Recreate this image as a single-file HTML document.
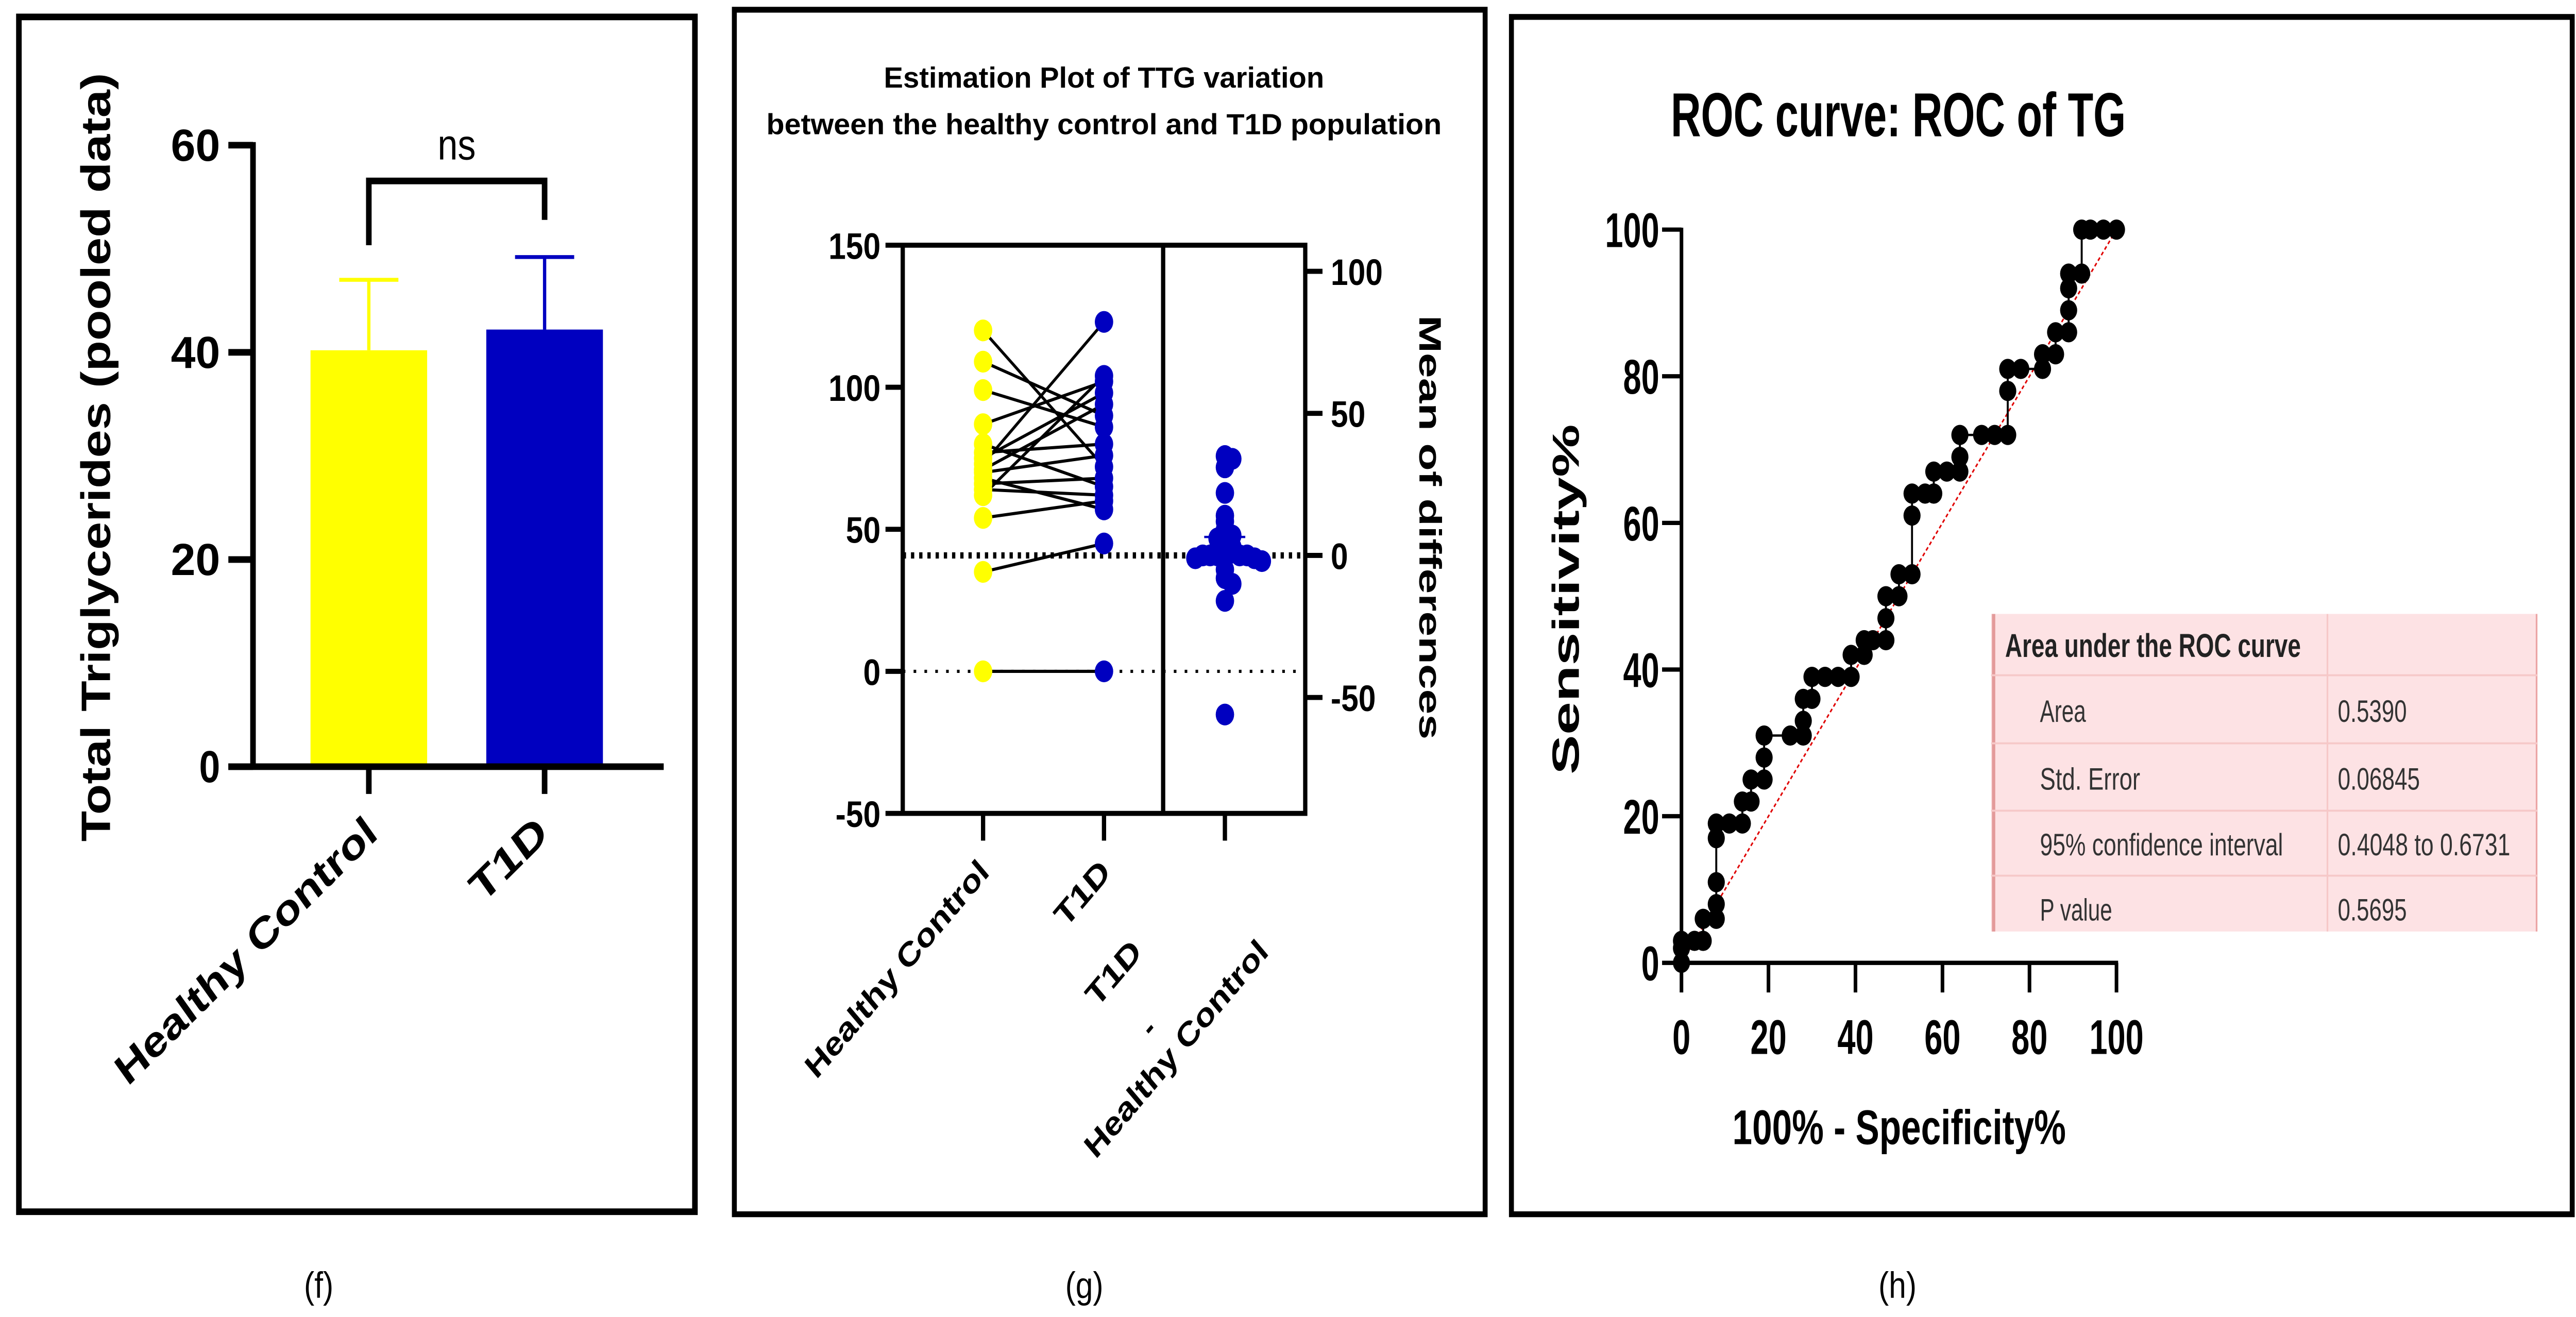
<!DOCTYPE html>
<html><head><meta charset="utf-8"><style>
html,body{margin:0;padding:0;background:#fff;width:100vw;height:100vh;overflow:hidden;}
svg{display:block;width:100vw;height:100vh;}
text{font-family:"Liberation Sans",sans-serif;}
</style></head><body>
<svg id="fig" viewBox="0 0 1568 676.8" preserveAspectRatio="none" xmlns="http://www.w3.org/2000/svg">
<rect x="0" y="0" width="1568" height="677" fill="#fff"/>
<!-- Panel f -->
<g id="pf">
 <rect x="11.5" y="8.7" width="411.5" height="614" fill="none" stroke="#000" stroke-width="3.4"/>
 <text transform="translate(67,235) rotate(-90)" text-anchor="middle" font-size="25" font-weight="bold" textLength="395" lengthAdjust="spacingAndGlyphs">Total Triglycerides (pooled data)</text>
 <g id="fAxes"></g>
 <text x="278" y="82" text-anchor="middle" font-size="22">ns</text>
 <path d="M224.5,126 V93 H331.5 V113" fill="none" stroke="#000" stroke-width="3.4"/>
 <text transform="translate(231,430) rotate(-40)" text-anchor="end" font-size="22" font-weight="bold" textLength="200" lengthAdjust="spacingAndGlyphs">Healthy Control</text>
 <text transform="translate(335,430) rotate(-40)" text-anchor="end" font-size="22" font-weight="bold" textLength="54" lengthAdjust="spacingAndGlyphs">T1D</text>
 <text x="194" y="667" text-anchor="middle" font-size="19" font-family="Liberation Serif, serif">(f)</text>
</g>
<!-- Panel g -->
<g id="pg">
 <rect x="447" y="5" width="457" height="619" fill="none" stroke="#000" stroke-width="3"/>
 <text x="672" y="45" text-anchor="middle" font-size="15" font-weight="bold" textLength="268" lengthAdjust="spacingAndGlyphs">Estimation Plot of TTG variation</text>
 <text x="672" y="69" text-anchor="middle" font-size="15" font-weight="bold" textLength="411" lengthAdjust="spacingAndGlyphs">between the healthy control and T1D population</text>
 <g id="gPlot"></g>
 <text transform="translate(864,271) rotate(90)" text-anchor="middle" font-size="19" font-weight="bold" textLength="218" lengthAdjust="spacingAndGlyphs">Mean of differences</text>
 <text transform="translate(603,449) rotate(-45)" text-anchor="end" font-size="17" font-weight="bold" textLength="150" lengthAdjust="spacingAndGlyphs">Healthy Control</text>
 <text transform="translate(677,449) rotate(-45)" text-anchor="end" font-size="17" font-weight="bold" textLength="40" lengthAdjust="spacingAndGlyphs">T1D</text>
 <text transform="translate(696,490) rotate(-45)" text-anchor="end" font-size="17" font-weight="bold" textLength="40" lengthAdjust="spacingAndGlyphs">T1D</text>
 <text transform="translate(705,530) rotate(-45)" text-anchor="end" font-size="17" font-weight="bold">-</text>
 <text transform="translate(773,490) rotate(-45)" text-anchor="end" font-size="17" font-weight="bold" textLength="150" lengthAdjust="spacingAndGlyphs">Healthy Control</text>
 <text x="660" y="667" text-anchor="middle" font-size="19" font-family="Liberation Serif, serif">(g)</text>
</g>
<!-- Panel h -->
<g id="ph">
 <rect x="920" y="8.7" width="645.7" height="615.3" fill="none" stroke="#000" stroke-width="3"/>
 <text x="1017" y="70" font-size="32" font-weight="bold" textLength="277" lengthAdjust="spacingAndGlyphs">ROC curve: ROC of TG</text>
 <text transform="translate(961,308) rotate(-90)" text-anchor="middle" font-size="23" font-weight="bold" textLength="180" lengthAdjust="spacingAndGlyphs">Sensitivity%</text>
 <text x="1156" y="588" text-anchor="middle" font-size="25" font-weight="bold" textLength="203" lengthAdjust="spacingAndGlyphs">100% - Specificity%</text>
 <g id="hPlot"></g>
 <g>
  <rect x="1212" y="315.5" width="332.6" height="163.2" fill="#fde2e4" stroke="none"/>
  <line x1="1213.5" y1="315.5" x2="1213.5" y2="478.7" stroke="#e39a9a" stroke-width="2"/>
  <line x1="1544" y1="315.5" x2="1544" y2="478.7" stroke="#eba5a5" stroke-width="1"/>
  <line x1="1416.7" y1="315.5" x2="1416.7" y2="478.7" stroke="#f6c8c8" stroke-width="1"/>
  <line x1="1212" y1="347" x2="1544.6" y2="347" stroke="#f6c8c8" stroke-width="1"/>
  <line x1="1212" y1="382" x2="1544.6" y2="382" stroke="#f6c8c8" stroke-width="1"/>
  <line x1="1212" y1="416.6" x2="1544.6" y2="416.6" stroke="#f6c8c8" stroke-width="1"/>
  <line x1="1212" y1="450" x2="1544.6" y2="450" stroke="#f6c8c8" stroke-width="1"/>
  <text x="1220.5" y="337.6" font-size="17" font-weight="bold" fill="#222" textLength="180" lengthAdjust="spacingAndGlyphs">Area under the ROC curve</text>
  <text x="1241.7" y="371" font-size="16" fill="#333" textLength="28" lengthAdjust="spacingAndGlyphs">Area</text>
  <text x="1423" y="371" font-size="16" fill="#333" textLength="42" lengthAdjust="spacingAndGlyphs">0.5390</text>
  <text x="1241.7" y="405.8" font-size="16" fill="#333" textLength="61" lengthAdjust="spacingAndGlyphs">Std. Error</text>
  <text x="1423" y="405.8" font-size="16" fill="#333" textLength="50" lengthAdjust="spacingAndGlyphs">0.06845</text>
  <text x="1241.7" y="439.6" font-size="16" fill="#333" textLength="148" lengthAdjust="spacingAndGlyphs">95% confidence interval</text>
  <text x="1423" y="439.6" font-size="16" fill="#333" textLength="105" lengthAdjust="spacingAndGlyphs">0.4048 to 0.6731</text>
  <text x="1241.7" y="473" font-size="16" fill="#333" textLength="44" lengthAdjust="spacingAndGlyphs">P value</text>
  <text x="1423" y="473" font-size="16" fill="#333" textLength="42" lengthAdjust="spacingAndGlyphs">0.5695</text>
 </g>
 <text x="1155" y="667" text-anchor="middle" font-size="19" font-family="Liberation Serif, serif">(h)</text>
</g>
</svg>
<script>
// ---------- Panel f data ----------
const fCategories = ["Healthy Control", "T1D"];
const fMeans = [40.2, 42.2];
const fErrUpper = [47.0, 49.2];
const fColors = ["#ffff00", "#0000c0"];
const fTicks = [0, 20, 40, 60];
// ---------- Panel g data ----------
const gHealthy = [120, 109, 99, 87, 80, 77, 75, 73, 71, 70, 68, 66, 64, 62, 54, 35, 0];
const gT1D = [72, 90, 86, 102, 65, 80, 98, 123, 94, 76, 57, 68, 62, 104, 60, 45, 0];
const gDiffs = [35, 34, 31, 22, 14, 12, 9, 7, 6, 4, 3, 2, 1, 1, 0, 0, 0, 0, 0, -1, -1, -2, -5, -8, -10, -16, -56];
const gDiffMean = 6.5;
const gLeftTicks = [-50, 0, 50, 100, 150];
const gRightTicks = [-50, 0, 50, 100];
const gRightZero = 40.8;
// ---------- Panel h data ----------
const hFpr = [0,0,0,3,5,5,8,8,8,8,8,11,14,14,16,16,19,19,19,25,28,28,28,30,30,33,36,39,39,42,42,44,47,47,47,50,50,53,53,53,56,58,58,61,64,64,64,69,72,75,75,75,78,83,83,86,86,89,89,89,89,92,92,94,97,100];
const hTpr = [0,2,3,3,3,6,6,8,11,17,19,19,19,22,22,25,25,28,31,31,31,33,36,36,39,39,39,39,42,42,44,44,44,47,50,50,53,53,61,64,64,64,67,67,67,69,72,72,72,72,78,81,81,81,83,83,86,86,89,92,94,94,100,100,100,100];
const hTicks = [0, 20, 40, 60, 80, 100];

const NS = "http://www.w3.org/2000/svg";
function mk(tag, attrs, parent) {
  const e = document.createElementNS(NS, tag);
  for (const k in attrs) e.setAttribute(k, attrs[k]);
  parent.appendChild(e);
  return e;
}

// ===== Panel f =====
(function () {
  const g = document.getElementById("fAxes");
  const y = v => 394 - v * (394 - 74.6) / 60;
  const xs = [224.5, 331.5];
  const bw = 71;
  for (let i = 0; i < fCategories.length; i++) {
    const err = mk("path", { d: `M${xs[i]},${y(fMeans[i])} V${y(fErrUpper[i])} M${xs[i] - 18},${y(fErrUpper[i])} H${xs[i] + 18}`, stroke: fColors[i], "stroke-width": 2, fill: "none" }, g);
    
    
    const b = mk("rect", { x: xs[i] - bw / 2, y: y(fMeans[i]), width: bw, height: y(0) - y(fMeans[i]), fill: fColors[i] }, g);
    
    
    const t = mk("line", { x1: xs[i], x2: xs[i], y1: 394, y2: 408, stroke: "#000", "stroke-width": 3.4 }, g);
    
    
  }
  const ya = mk("line", { x1: 154, x2: 154, y1: 73, y2: 395.5, stroke: "#000", "stroke-width": 3.4 }, g);
  
  
  const xa = mk("line", { x1: 139, x2: 404, y1: 394, y2: 394, stroke: "#000", "stroke-width": 3.4 }, g);
  
  
  fTicks.forEach(v => {
    const t = mk("line", { x1: 139, x2: 154, y1: y(v), y2: y(v), stroke: "#000", "stroke-width": 3.4 }, g);
    
    
    const l = mk("text", { x: 134, y: y(v) + 8, "text-anchor": "end", "font-size": 23, "font-weight": "bold" }, g);
    
    
    l.textContent = v;
    if (String(v).length > 1) { l.setAttribute("textLength", 30); l.setAttribute("lengthAdjust", "spacingAndGlyphs"); }
  });
})();

// ===== Panel g =====
(function () {
  const g = document.getElementById("gPlot");
  const L = v => 345 - v * 1.46;
  const R = v => L(v + gRightZero);
  const xHC = 598.4, xT = 672, xD = 745.6;
  const d0 = mk("line", { x1: 549.5, x2: 794.5, y1: L(0), y2: L(0), stroke: "#000", "stroke-width": 1.6, "stroke-dasharray": "1.6 5" }, g);
  
  
  const d1 = mk("line", { x1: 549.5, x2: 794.5, y1: R(0), y2: R(0), stroke: "#000", "stroke-width": 3.2, "stroke-dasharray": "2 3" }, g);
  
  
  const box = mk("path", { d: "M549.5,126 V418 H794.5 V126 Z M708,126 V418", fill: "none", stroke: "#000", "stroke-width": 2.6 }, g);
  
  
  gLeftTicks.forEach(v => {
    const t = mk("line", { x1: 539, x2: 549.5, y1: L(v), y2: L(v), stroke: "#000", "stroke-width": 2.6 }, g);
    
    
    const l = mk("text", { x: 536, y: L(v) + 7, "text-anchor": "end", "font-size": 19, "font-weight": "bold" }, g);
    
    
    l.textContent = v;
  });
  gRightTicks.forEach(v => {
    const t = mk("line", { x1: 794.5, x2: 805, y1: R(v), y2: R(v), stroke: "#000", "stroke-width": 2.6 }, g);
    
    
    const l = mk("text", { x: 810, y: R(v) + 7, "text-anchor": "start", "font-size": 19, "font-weight": "bold" }, g);
    
    
    l.textContent = v;
  });
  [xHC, xT, xD].forEach(x => {
    const t = mk("line", { x1: x, x2: x, y1: 418, y2: 432, stroke: "#000", "stroke-width": 2.6 }, g);
    
    
  });
  for (let i = 0; i < gHealthy.length; i++) {
    const ln = mk("line", { x1: xHC, y1: L(gHealthy[i]), x2: xT, y2: L(gT1D[i]), stroke: "#000", "stroke-width": 1.6 }, g);
    
    
  }
  gHealthy.forEach(v => {
    const c = mk("circle", { cx: xHC, cy: L(v), r: 5.6, fill: "#ffff00" }, g);
    
    
  });
  gT1D.forEach(v => {
    const c = mk("circle", { cx: xT, cy: L(v), r: 5.6, fill: "#0000c0" }, g);
    
    
  });
  const bins = {};
  gDiffs.forEach(v => {
    const k = Math.round(v / 4);
    const n = bins[k] = (bins[k] || 0) + 1;
    const idx = n - 1;
    const off = idx === 0 ? 0 : (idx % 2 ? 1 : -1) * Math.ceil(idx / 2) * 4.5;
    const c = mk("circle", { cx: xD + off, cy: R(v), r: 5.6, fill: "#0000c0" }, g);
    
    
  });
  const m = mk("line", { x1: 733, x2: 758, y1: R(gDiffMean), y2: R(gDiffMean), stroke: "#0000c0", "stroke-width": 1.2 }, g);
  
  
})();

// ===== Panel h =====
(function () {
  const g = document.getElementById("hPlot");
  const X = v => 1023.5 + v * (1288.3 - 1023.5) / 100;
  const Y = v => 494.8 - v * (494.8 - 118) / 100;
  const diag = mk("line", { x1: X(0), y1: Y(0), x2: X(100), y2: Y(100), stroke: "#e00000", "stroke-width": 0.9, "stroke-dasharray": "2 1.5" }, g);
  
  
  const ya = mk("line", { x1: X(0), x2: X(0), y1: Y(100) - 1, y2: Y(0) + 1, stroke: "#000", "stroke-width": 2.2 }, g);
  
  
  const xa = mk("line", { x1: X(0) - 1, x2: X(100) + 1, y1: Y(0), y2: Y(0), stroke: "#000", "stroke-width": 2.2 }, g);
  
  
  hTicks.forEach(v => {
    const t = mk("line", { x1: 1011.7, x2: X(0), y1: Y(v), y2: Y(v), stroke: "#000", "stroke-width": 2.2 }, g);
    
    
    const l = mk("text", { x: 1010, y: Y(v) + 9, "text-anchor": "end", "font-size": 25, "font-weight": "bold", textLength: String(v).length * 11, lengthAdjust: "spacingAndGlyphs" }, g);
    
    
    l.textContent = v;
    const tx = mk("line", { x1: X(v), x2: X(v), y1: Y(0), y2: 510, stroke: "#000", "stroke-width": 2.2 }, g);
    
    
    const lx = mk("text", { x: X(v), y: 541.6, "text-anchor": "middle", "font-size": 25, "font-weight": "bold", textLength: String(v).length * 11, lengthAdjust: "spacingAndGlyphs" }, g);
    
    
    lx.textContent = v;
  });
  let d = "";
  for (let i = 0; i < hFpr.length; i++) d += (i ? "L" : "M") + X(hFpr[i]) + "," + Y(hTpr[i]);
  const line = mk("path", { d: d, fill: "none", stroke: "#000", "stroke-width": 1.2 }, g);
  
  
  for (let i = 0; i < hFpr.length; i++) {
    const c = mk("circle", { cx: X(hFpr[i]), cy: Y(hTpr[i]), r: 5.2, fill: "#000" }, g);
    
    
  }
})();
</script>
</body></html>
